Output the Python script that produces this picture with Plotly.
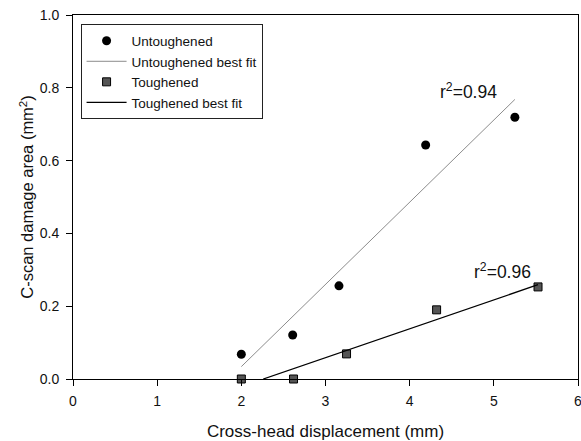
import plotly.graph_objects as go

# Data
unt_x = [2.0, 2.61, 3.16, 4.19, 5.25]
unt_y = [0.068, 0.121, 0.256, 0.643, 0.719]
unt_fit_x = [2.0, 5.25]
unt_fit_y = [0.034, 0.768]

tou_x = [2.0, 2.62, 3.25, 4.32, 5.525]
tou_y = [0.0, 0.0, 0.069, 0.19, 0.253]
tou_fit_x = [2.26, 5.525]
tou_fit_y = [0.0, 0.259]

r2_labels = ["r<sup>2</sup>=0.94", "r<sup>2</sup>=0.96"]
r2_x = [4.70, 5.10]
r2_y = [0.79, 0.297]

x_ticks = [0, 1, 2, 3, 4, 5, 6]
y_ticks = [0.0, 0.2, 0.4, 0.6, 0.8, 1.0]
y_tick_text = ["0.0", "0.2", "0.4", "0.6", "0.8", "1.0"]

FONT = "Liberation Sans, Arial, sans-serif"

fig = go.Figure()
fig.add_trace(go.Scatter(
    x=unt_x, y=unt_y, mode="markers", name="Untoughened",
    marker=dict(symbol="circle", size=9, color="black", line=dict(width=0)),
    cliponaxis=False))
fig.add_trace(go.Scatter(
    x=unt_fit_x, y=unt_fit_y, mode="lines", name="Untoughened best fit",
    line=dict(color="#8c8c8c", width=1)))
fig.add_trace(go.Scatter(
    x=tou_x, y=tou_y, mode="markers", name="Toughened",
    marker=dict(symbol="square", size=8, color="#555555",
                line=dict(color="black", width=1)),
    cliponaxis=False))
fig.add_trace(go.Scatter(
    x=tou_fit_x, y=tou_fit_y, mode="lines", name="Toughened best fit",
    line=dict(color="black", width=1.3)))

for t, xx, yy in zip(r2_labels, r2_x, r2_y):
    fig.add_annotation(x=xx, y=yy, text=t, showarrow=False,
                       font=dict(family=FONT, size=17.5, color="#111111"))

fig.update_layout(
    width=581, height=441,
    margin=dict(l=73, r=3, t=15, b=62, autoexpand=False),
    paper_bgcolor="white", plot_bgcolor="white",
    font=dict(family=FONT, color="#111111"),
    showlegend=True,
    legend=dict(x=0.015, y=0.974, xanchor="left", yanchor="top",
                bgcolor="white", bordercolor="#222222", borderwidth=1,
                font=dict(family=FONT, size=13.5, color="#111111"),
                itemwidth=40, tracegroupgap=0),
    xaxis=dict(range=[0, 6], tickvals=x_ticks, ticks="outside", ticklen=6,
               tickcolor="black", showline=True, linecolor="black", linewidth=1,
               mirror=True, showgrid=False, zeroline=False, automargin=False,
               ticklabeloverflow="allow", ticklabelstandoff=3,
               tickfont=dict(family=FONT, size=14, color="#111111"),
               title=dict(text="Cross-head displacement (mm)",
                          font=dict(family=FONT, size=17, color="#111111"),
                          standoff=20)),
    yaxis=dict(range=[0, 1], tickvals=y_ticks, ticktext=y_tick_text,
               ticks="outside", ticklen=6, ticklabelstandoff=4, automargin=False,
               tickcolor="black", showline=True, linecolor="black", linewidth=1,
               mirror=True, showgrid=False, zeroline=False,
               tickfont=dict(family=FONT, size=14, color="#111111"),
               title=dict(text="C-scan damage area (mm<sup>2</sup>)",
                          font=dict(family=FONT, size=16.5, color="#111111"),
                          standoff=1)),
)

fig.write_html("out.html")
